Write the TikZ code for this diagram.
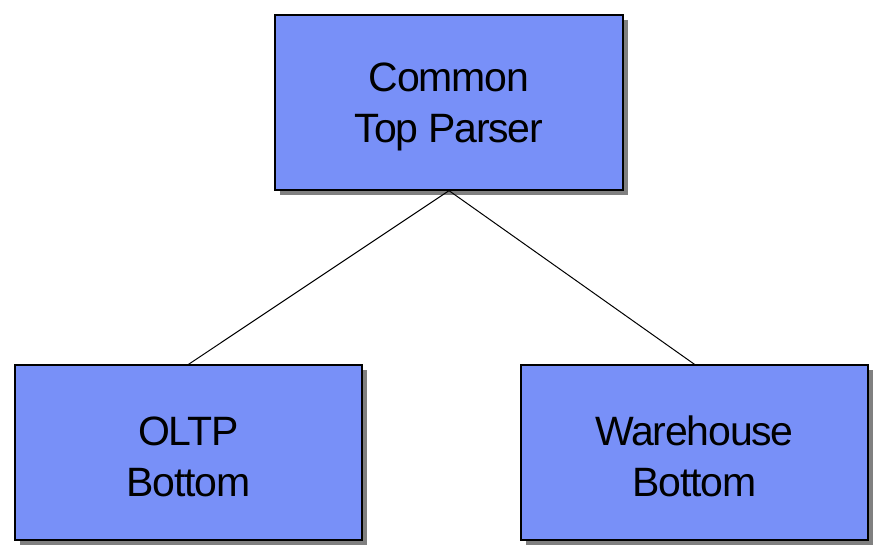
\documentclass[tikz,border=0pt]{standalone}
\usepackage{fontspec}
\setmainfont{Liberation Sans}[LetterSpace=-3]
\usetikzlibrary{shadows}
\definecolor{boxblue}{HTML}{7890F8}
\definecolor{shadowgray}{HTML}{808080}
\begin{document}
\begin{tikzpicture}[x=1pt,y=1pt,
  blockbox/.style={draw=black, line width=1.3pt, fill=boxblue,
    minimum width=347pt, minimum height=175pt, align=center,
    font=\fontsize{41}{51}\selectfont, inner sep=0pt, text height=89pt,
    drop shadow={shadow xshift=5pt, shadow yshift=-5pt, fill=shadowgray, opacity=1}},
  link/.style={draw=black, line width=1pt}]
\useasboundingbox (0,0) rectangle (888,558);
\node[blockbox, minimum width=348pt] (top) at (449,455.5) {Common\\Top Parser};
\node[blockbox] (oltp) at (188.5,105.5) {OLTP\\Bottom};
\node[blockbox] (wh) at (694.5,105.5) {Warehouse\\Bottom};
\draw[link] (top.south) -- (oltp.north);
\draw[link] (top.south) -- (wh.north);
\end{tikzpicture}
\end{document}
